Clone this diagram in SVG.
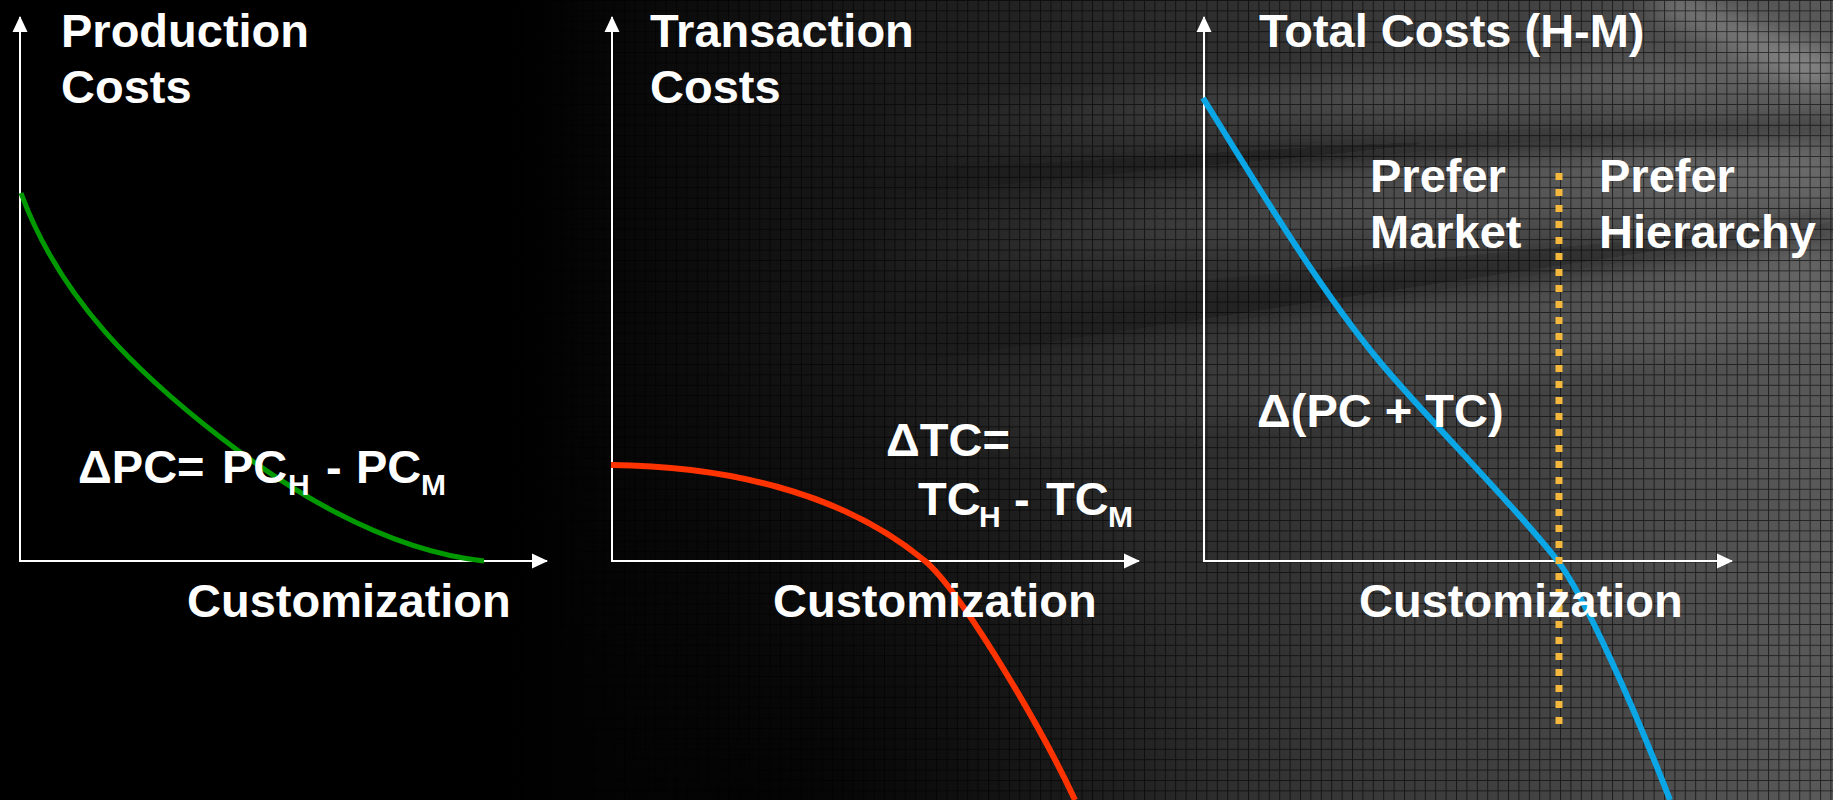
<svg xmlns="http://www.w3.org/2000/svg" width="1833" height="800" viewBox="0 0 1833 800">
  <style>
    .t { font-family: "Liberation Sans", Arial, sans-serif; font-weight: bold; font-size: 47px; fill: #ffffff; }
    .s { font-size: 30px; }
    .axis { fill: none; stroke: #ffffff; stroke-width: 2; marker-start: url(#arrow); marker-end: url(#arrow); }
    .curve { fill: none; stroke-linecap: butt; }
  </style>
  <defs>
    <linearGradient id="bgShade" x1="0" y1="0" x2="1833" y2="0" gradientUnits="userSpaceOnUse">
      <stop offset="0" stop-color="#000"/>
      <stop offset="0.28" stop-color="#000"/>
      <stop offset="0.5" stop-color="#1c1c1c"/>
      <stop offset="0.7" stop-color="#333"/>
      <stop offset="0.86" stop-color="#454545"/>
      <stop offset="1" stop-color="#5a5a5a"/>
    </linearGradient>
    <radialGradient id="lowShadow" cx="760" cy="820" r="480" gradientUnits="userSpaceOnUse">
      <stop offset="0" stop-color="#000" stop-opacity="0.85"/>
      <stop offset="1" stop-color="#000" stop-opacity="0"/>
    </radialGradient>
    <linearGradient id="streakFade" x1="850" y1="0" x2="1300" y2="0" gradientUnits="userSpaceOnUse">
      <stop offset="0" stop-color="#000"/>
      <stop offset="1" stop-color="#fff"/>
    </linearGradient>
    <mask id="streakMask" maskUnits="userSpaceOnUse" x="0" y="0" width="1833" height="800">
      <rect width="1833" height="800" fill="url(#streakFade)"/>
    </mask>
    <pattern id="grid" width="10.4" height="10.4" patternUnits="userSpaceOnUse">
      <path d="M0 0.5H10.4M0.5 0V10.4" stroke="#000" stroke-opacity="0.6" stroke-width="1"/>
    </pattern>
    <filter id="soft" filterUnits="userSpaceOnUse" x="0" y="-100" width="1833" height="700">
      <feGaussianBlur stdDeviation="14"/>
    </filter>
    <marker id="arrow" markerUnits="userSpaceOnUse" markerWidth="16" markerHeight="16" viewBox="0 0 16 16" refX="15" refY="8" orient="auto-start-reverse">
      <path d="M0,0.5 L16,8 L0,15.5 Z" fill="#fff"/>
    </marker>
  </defs>

  <!-- backdrop: black fading to grey, light streaks, fine grid -->
  <g id="backdrop">
    <rect width="1833" height="800" fill="url(#bgShade)"/>
    <g mask="url(#streakMask)">
      <g filter="url(#soft)">
        <path d="M800,130 L1833,70" stroke="#fff" stroke-opacity="0.10" stroke-width="40"/>
        <path d="M800,182 L1833,135" stroke="#000" stroke-opacity="0.45" stroke-width="28"/>
        <path d="M800,260 L1833,165" stroke="#fff" stroke-opacity="0.10" stroke-width="60"/>
        <path d="M800,360 L1833,230" stroke="#000" stroke-opacity="0.35" stroke-width="40"/>
        <path d="M800,445 L1833,290" stroke="#fff" stroke-opacity="0.07" stroke-width="80"/>
        <path d="M1660,0 L1833,75" stroke="#fff" stroke-opacity="0.25" stroke-width="30"/>
      </g>
    </g>
    <rect width="1833" height="800" fill="url(#lowShadow)"/>
    <rect width="1833" height="800" fill="url(#grid)"/>
  </g>

  <!-- left chart: production costs -->
  <g id="chart-production">
    <path class="axis" d="M20,17 V561 H547"/>
    <path class="curve" stroke="#009a00" stroke-width="5" d="M21,193 C60,300 140,375 220,437 C280,483.5 380,550 484,561"/>
    <text class="t" x="61" y="47">Production</text>
    <text class="t" x="61" y="103">Costs</text>
    <text class="t" x="78" y="483">ΔPC=<tspan x="222">PC</tspan><tspan class="s" x="288" y="495">H</tspan><tspan x="326" y="483">-</tspan><tspan x="356">PC</tspan><tspan class="s" x="421" y="495">M</tspan></text>
    <text class="t" x="187" y="617">Customization</text>
  </g>

  <!-- middle chart: transaction costs -->
  <g id="chart-transaction">
    <path class="axis" d="M612,17 V561 H1139"/>
    <path class="curve" stroke="#ff3300" stroke-width="6" d="M611,465 C720,466 840,490 925,561 C960,590 1040,725 1075,800"/>
    <text class="t" x="650" y="47">Transaction</text>
    <text class="t" x="650" y="103">Costs</text>
    <text class="t" x="886" y="456">ΔTC=</text>
    <text class="t" x="918" y="515">TC<tspan class="s" x="979" y="527">H</tspan><tspan x="1014" y="515">-</tspan><tspan x="1046">TC</tspan><tspan class="s" x="1108" y="527">M</tspan></text>
    <text class="t" x="773" y="617">Customization</text>
  </g>

  <!-- right chart: total cost difference -->
  <g id="chart-total">
    <path class="axis" d="M1204,17 V561 H1732"/>
    <path class="curve" stroke="#0aa6e6" stroke-width="6" d="M1203,98 C1260,190 1320,290 1380,362 C1430,422 1510,500 1557,560 C1585,596 1635,710 1670,800"/>
    <path id="breakeven" d="M1559,173 V726" stroke="#f4b93c" stroke-width="7" stroke-dasharray="7 9" fill="none"/>
    <text class="t" x="1259" y="47">Total Costs (H-M)</text>
    <text class="t" x="1370" y="192">Prefer</text>
    <text class="t" x="1370" y="248">Market</text>
    <text class="t" x="1599" y="192">Prefer</text>
    <text class="t" x="1599" y="248">Hierarchy</text>
    <text class="t" x="1257" y="427">Δ(PC + TC)</text>
    <text class="t" x="1359" y="617">Customization</text>
  </g>
</svg>
